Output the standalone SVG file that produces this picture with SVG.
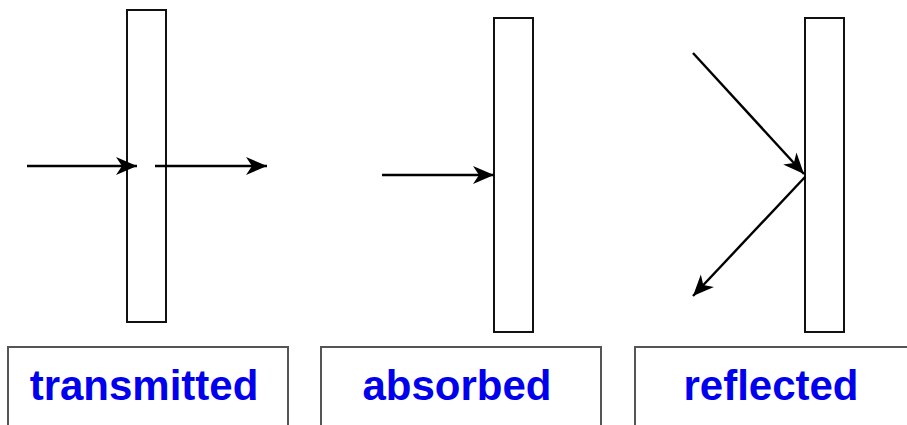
<svg xmlns="http://www.w3.org/2000/svg" width="907" height="425" viewBox="0 0 907 425">
<style>
.slab{fill:#fff;stroke:#111;stroke-width:2}
.lbl{fill:#fff;stroke:#555;stroke-width:2}
.txt{font-family:"Liberation Sans",Arial,sans-serif;font-weight:bold;font-size:42px;fill:#0000ee;text-anchor:middle}
.ray{stroke:#000;stroke-width:2.4;fill:none;marker-end:url(#arr)}
</style>
<defs>
<marker id="arr" markerUnits="userSpaceOnUse" markerWidth="22" markerHeight="20" viewBox="0 0 22 20" refX="21" refY="10" orient="auto">
<path d="M0,1 L21,10 L0,19 L6,10 Z" fill="#000"/>
</marker>
</defs>
<rect width="907" height="425" fill="#fff"/>
<g id="transmitted">
<rect class="slab" x="127" y="10" width="39" height="312"/>
<rect class="lbl" x="8" y="347" width="280" height="90"/>
<text class="txt" x="144" y="400">transmitted</text>
</g>
<g id="absorbed">
<rect class="slab" x="494" y="18" width="39" height="314"/>
<rect class="lbl" x="321" y="347" width="280" height="90"/>
<text class="txt" x="457" y="400">absorbed</text>
</g>
<g id="reflected">
<rect class="slab" x="805" y="18" width="39" height="314"/>
<rect class="lbl" x="635" y="347" width="280" height="90"/>
<text class="txt" x="771" y="400">reflected</text>
</g>
<g id="connectors">
<line class="ray" x1="27" y1="166" x2="137" y2="166"/>
<line class="ray" x1="155" y1="166" x2="267" y2="166"/>
<line class="ray" x1="382" y1="175" x2="494" y2="175"/>
<line class="ray" x1="693" y1="53" x2="804" y2="174"/>
<line class="ray" x1="805" y1="177" x2="693" y2="296"/>
</g>
</svg>
